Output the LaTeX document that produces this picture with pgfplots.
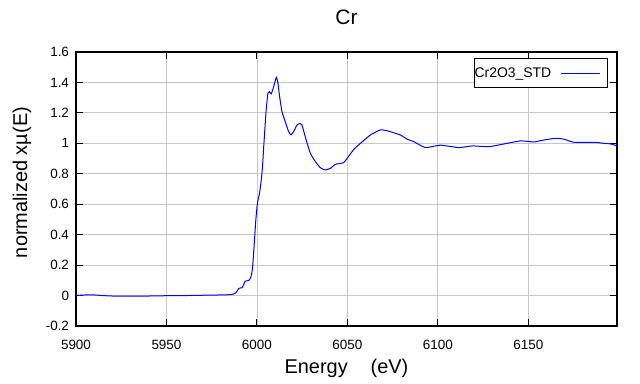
\documentclass[border=0pt]{standalone}
\usepackage{fontspec}
\setmainfont{Liberation Sans}
\usepackage{pgfplots}
\pgfplotsset{compat=1.18}
\begin{document}
\begin{tikzpicture}
\useasboundingbox (-76bp,-58bp) rectangle (564bp,326bp);
\begin{axis}[
  at={(0,0)}, anchor=south west,
  scale only axis, width=541bp, height=274bp,
  xmin=5900, xmax=6199, ymin=-0.2, ymax=1.6,
  xtick={5900,5950,6000,6050,6100,6150},
  ytick={-0.2,0,0.2,0.4,0.6,0.8,1,1.2,1.4,1.6},
  tick align=inside, major tick length=7bp,
  tick style={black, line width=1bp},
  grid=major, major grid style={line width=0.8bp, color=black!22},
  axis line style={line width=1.2bp},
  /pgf/number format/assume math mode=true,
  /pgf/number format/1000 sep={},
  xticklabel style={font=\fontsize{13.5}{16}\selectfont, anchor=base, yshift=-23bp},
  yticklabel style={font=\fontsize{13.5}{16}\selectfont, anchor=east, xshift=-3.5bp},
  title={Cr},
  title style={font=\fontsize{21}{25}\selectfont, at={(axis description cs:0.5,1)}, anchor=base, yshift=22bp},
  xlabel={Energy\hspace{23bp}(eV)},
  xlabel style={font=\fontsize{20}{24}\selectfont, at={(axis description cs:0.5,0)}, anchor=base, yshift=-47bp},
  ylabel={normalized x\textmu(E)},
  ylabel style={font=\fontsize{20}{24}\selectfont, at={(axis description cs:-0.0998,0.5237)}, anchor=center},
  legend style={at={(axis description cs:0.9834,0.978)}, anchor=north east, draw=black, line width=0.8bp, fill=white,
    font=\fontsize{14}{16}\selectfont, inner sep=0pt, nodes={inner xsep=0pt, inner ysep=9bp}},
  legend plot pos=right,
  legend cell align=left,
  legend image code/.code={\path (-8.7bp,0bp) (46.6bp,0bp); \draw[#1, line width=1bp] (0bp,0bp) -- (39bp,0bp);},
]
\addplot[blue, line width=1bp, smooth, tension=0.3] coordinates {
(5900,0.000) (5905,0.004) (5910,0.004) (5915,0.000) (5920,-0.003) (5930,-0.004)
(5940,-0.003) (5950,-0.001) (5960,0.000) (5970,0.002) (5980,0.004) (5985,0.006)
(5987,0.010) (5988.5,0.020) (5989.8,0.045) (5990.8,0.050) (5991.7,0.050) (5992.6,0.070)
(5993.5,0.095) (5994.5,0.097) (5995.4,0.098) (5996.2,0.110) (5996.7,0.125) (5997.2,0.150)
(5997.6,0.19) (5998.0,0.25) (5998.5,0.34) (5999.0,0.43) (5999.4,0.50) (6000.3,0.61)
(6001.4,0.67) (6002.4,0.76) (6003.1,0.85) (6003.7,0.97) (6004.2,1.06) (6005.1,1.22)
(6006.1,1.33) (6007.0,1.34) (6007.9,1.325) (6009.2,1.37) (6010.7,1.434) (6011.6,1.395)
(6012.5,1.31) (6013.8,1.21) (6015.7,1.14) (6017.5,1.077) (6018.8,1.055) (6020.3,1.077)
(6022.1,1.12) (6023.6,1.13) (6024.9,1.12) (6026.7,1.044) (6029.5,0.935) (6032.3,0.88)
(6035.0,0.84) (6037.8,0.825) (6040.6,0.836) (6043.3,0.862) (6045.2,0.866) (6047.9,0.873)
(6049.8,0.90) (6053.5,0.96) (6057.2,1.00) (6062.7,1.055) (6068.2,1.088) (6071.9,1.083)
(6077.5,1.062) (6079.3,1.055) (6083.0,1.027) (6086.7,1.011) (6093.1,0.972) (6101.4,0.988)
(6111.6,0.972) (6119.0,0.983) (6128.2,0.978) (6136.5,0.996) (6145.7,1.016) (6153.1,1.009)
(6158.6,1.022) (6165.1,1.033) (6169.7,1.027) (6175.2,1.007) (6186.3,1.007) (6191.8,1.000)
(6195.5,0.996) (6199,0.983)
};
\addlegendentry{Cr2O3\_STD}
\end{axis}
\end{tikzpicture}
\end{document}
